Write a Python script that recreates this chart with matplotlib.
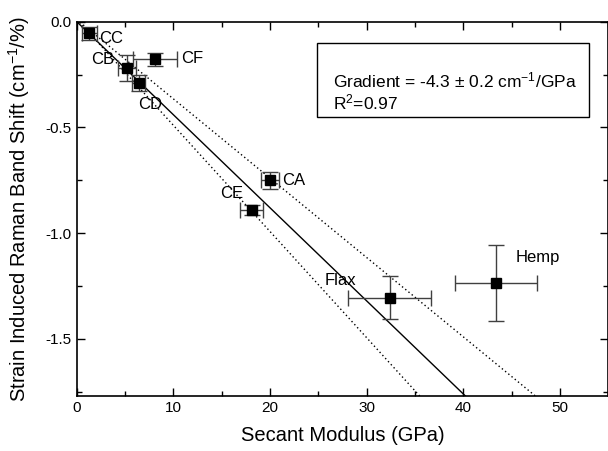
import matplotlib.pyplot as plt
from matplotlib.patches import Rectangle
from matplotlib.ticker import MultipleLocator
import numpy as np

plt.rcParams['font.family'] = ['Liberation Sans', 'DejaVu Sans']
plt.rcParams['mathtext.fontset'] = 'custom'
plt.rcParams['mathtext.rm'] = 'Liberation Sans'
plt.rcParams['mathtext.it'] = 'Liberation Sans:italic'
plt.rcParams['axes.unicode_minus'] = False

# fibre data: secant modulus (GPa) vs strain induced Raman band shift (cm-1/%)
names = ["CC", "CB", "CF", "CD", "CA", "CE", "Flax", "Hemp"]
modulus = [1.3, 5.2, 8.1, 6.4, 20.0, 18.1, 32.4, 43.4]
modulus_err = [0.8, 0.9, 2.3, 0.7, 0.9, 1.2, 4.3, 4.2]
shift = [-0.055, -0.22, -0.178, -0.29, -0.75, -0.89, -1.305, -1.236]
shift_err = [0.03, 0.06, 0.03, 0.04, 0.04, 0.025, 0.10, 0.18]

# label anchor positions (left edge, vertical centre)
label_x = [2.3, 1.5, 10.8, 6.4, 21.3, 14.8, 25.7, 45.4]
label_y = [-0.082, -0.181, -0.173, -0.394, -0.753, -0.813, -1.223, -1.113]

# linear fit and dotted bounds: (intercept, slope)
fit = (0.0, -0.0440)
upper = (0.010, -0.0375)
lower = (0.012, -0.0502)

fig = plt.figure(figsize=(6.08, 4.51), dpi=100)
ax = fig.add_axes([0.1262, 0.122, 0.874, 0.830])

xs = np.array([0, 55])
ax.plot(xs, fit[0] + fit[1] * xs, color='black', lw=1.0)
ax.plot(xs, upper[0] + upper[1] * xs, color='black', lw=1.0, ls=(0, (1, 2)))
ax.plot(xs, lower[0] + lower[1] * xs, color='black', lw=1.0, ls=(0, (1, 2)))

ax.errorbar(modulus, shift, xerr=modulus_err, yerr=shift_err, fmt='s',
            color='black', ms=6.5, ecolor='0.25', elinewidth=1.0, capsize=5.5,
            capthick=1.0, zorder=3)

for n, lx, ly in zip(names, label_x, label_y):
    ax.text(lx, ly, n, fontsize=12, ha='left', va='center')

ax.set_xlim(0, 55)
ax.set_ylim(-1.77, 0.0)
ax.xaxis.set_major_locator(MultipleLocator(10))
ax.xaxis.set_minor_locator(MultipleLocator(5))
ax.yaxis.set_major_locator(MultipleLocator(0.5))
ax.yaxis.set_minor_locator(MultipleLocator(0.25))
ax.tick_params(which='both', direction='in', top=True, right=True, labelsize=11, width=1.0)
ax.tick_params(which='major', length=6)
ax.tick_params(which='minor', length=3.5)
ax.yaxis.set_major_formatter(plt.FuncFormatter(lambda v, p: f"{v:.1f}"))
for s in ax.spines.values():
    s.set_linewidth(1.2)

ax.set_xlabel("Secant Modulus (GPa)", fontsize=14.5, labelpad=8)
ax.set_ylabel("Strain Induced Raman Band Shift (cm$^{-1}$/%)", fontsize=14.5, labelpad=10)

ax.add_patch(Rectangle((0.452, 0.746), 0.512, 0.198, transform=ax.transAxes,
                       fill=False, edgecolor='black', lw=1.0))
ax.text(0.482, 0.844, "Gradient = -4.3 \u00b1 0.2 cm$^{-1}$/GPa", transform=ax.transAxes,
        fontsize=12.5, ha='left', va='center')
ax.text(0.482, 0.783, "R$^{2}$=0.97", transform=ax.transAxes,
        fontsize=12.5, ha='left', va='center')

fig.savefig("out.png", dpi=100)
